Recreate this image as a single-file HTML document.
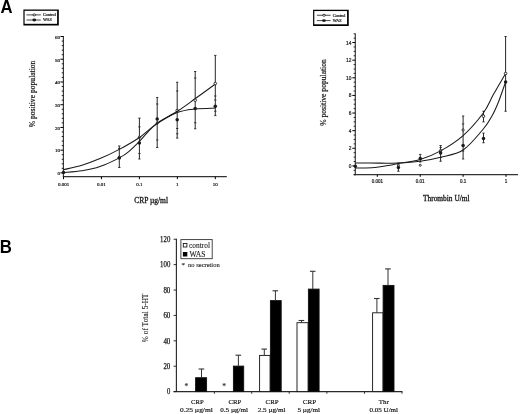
<!DOCTYPE html>
<html lang="en"><head><meta charset="utf-8"><title>Figure</title>
<style>
html,body{margin:0;padding:0;background:#fff;}
body{width:520px;height:414px;overflow:hidden;}
svg{display:block;filter:grayscale(1);}
.s{font-family:"Liberation Serif","DejaVu Serif",serif;fill:#1a1a1a;stroke:#1a1a1a;stroke-width:0.1px;}
</style></head>
<body>
<svg width="520" height="414" viewBox="0 0 520 414">
<rect x="0" y="0" width="520" height="414" fill="#fff"/>
<text transform="translate(0.6,12.5) scale(0.95,1)" font-family='"Liberation Sans","DejaVu Sans",sans-serif' font-weight="bold" font-size="17.6" fill="#000">A</text>
<text transform="translate(-0.25,252.75) scale(0.96,1)" font-family='"Liberation Sans","DejaVu Sans",sans-serif' font-weight="bold" font-size="17.5" fill="#000">B</text>
<rect x="23.4" y="9.5" width="35.4" height="16.0" fill="#000"/>
<rect x="24.6" y="10.8" width="32.5" height="13.0" fill="#fff"/>
<line x1="26.5" y1="14.9" x2="40.8" y2="14.9" stroke="#1a1a1a" stroke-width="0.8"/>
<line x1="26.5" y1="20.0" x2="40.8" y2="20.0" stroke="#1a1a1a" stroke-width="0.8"/>
<ellipse cx="34.25" cy="14.9" rx="1.35" ry="1.0" fill="#fff" stroke="#1a1a1a" stroke-width="0.85"/>
<ellipse cx="34.25" cy="20.0" rx="1.9" ry="1.45" fill="#1a1a1a"/>
<text class="s" x="43.0" y="16.3" font-size="4.2" style="stroke-width:.2px">Control</text>
<text class="s" x="43.0" y="21.4" font-size="4.2" style="stroke-width:.2px">WAS</text>
<rect x="313.1" y="9.75" width="35.65" height="16.25" fill="#000"/>
<rect x="314.3" y="11.05" width="32.75" height="13.25" fill="#fff"/>
<line x1="316.9" y1="15.25" x2="330.6" y2="15.25" stroke="#1a1a1a" stroke-width="0.8"/>
<line x1="316.9" y1="20.6" x2="330.6" y2="20.6" stroke="#1a1a1a" stroke-width="0.8"/>
<ellipse cx="323.95" cy="15.25" rx="1.35" ry="1.0" fill="#fff" stroke="#1a1a1a" stroke-width="0.85"/>
<ellipse cx="323.95" cy="20.6" rx="1.9" ry="1.45" fill="#1a1a1a"/>
<text class="s" x="332.7" y="16.65" font-size="4.2" style="stroke-width:.2px">Control</text>
<text class="s" x="332.7" y="22.0" font-size="4.2" style="stroke-width:.2px">WAS</text>
<line x1="63.4" y1="36.02" x2="63.4" y2="177.1" stroke="#333" stroke-width="1.15"/>
<line x1="62.9" y1="176.6" x2="226.8" y2="176.6" stroke="#333" stroke-width="1.2"/>
<line x1="60.4" y1="172.9" x2="63.4" y2="172.9" stroke="#000" stroke-width="1"/>
<text x="60.0" y="175.2" text-anchor="end" font-family='"Liberation Serif","DejaVu Serif",serif' font-size="5" fill="#1a1a1a" stroke="#1a1a1a" stroke-width="0.2">0</text>
<line x1="61.7" y1="168.35" x2="63.4" y2="168.35" stroke="#000" stroke-width="0.85"/>
<line x1="61.7" y1="163.81" x2="63.4" y2="163.81" stroke="#000" stroke-width="0.85"/>
<line x1="61.7" y1="159.26" x2="63.4" y2="159.26" stroke="#000" stroke-width="0.85"/>
<line x1="61.7" y1="154.72" x2="63.4" y2="154.72" stroke="#000" stroke-width="0.85"/>
<line x1="60.4" y1="150.17" x2="63.4" y2="150.17" stroke="#000" stroke-width="1"/>
<text x="60.0" y="152.47" text-anchor="end" font-family='"Liberation Serif","DejaVu Serif",serif' font-size="5" fill="#1a1a1a" stroke="#1a1a1a" stroke-width="0.2">10</text>
<line x1="61.7" y1="145.62" x2="63.4" y2="145.62" stroke="#000" stroke-width="0.85"/>
<line x1="61.7" y1="141.08" x2="63.4" y2="141.08" stroke="#000" stroke-width="0.85"/>
<line x1="61.7" y1="136.53" x2="63.4" y2="136.53" stroke="#000" stroke-width="0.85"/>
<line x1="61.7" y1="131.99" x2="63.4" y2="131.99" stroke="#000" stroke-width="0.85"/>
<line x1="60.4" y1="127.44" x2="63.4" y2="127.44" stroke="#000" stroke-width="1"/>
<text x="60.0" y="129.74" text-anchor="end" font-family='"Liberation Serif","DejaVu Serif",serif' font-size="5" fill="#1a1a1a" stroke="#1a1a1a" stroke-width="0.2">20</text>
<line x1="61.7" y1="122.89" x2="63.4" y2="122.89" stroke="#000" stroke-width="0.85"/>
<line x1="61.7" y1="118.35" x2="63.4" y2="118.35" stroke="#000" stroke-width="0.85"/>
<line x1="61.7" y1="113.8" x2="63.4" y2="113.8" stroke="#000" stroke-width="0.85"/>
<line x1="61.7" y1="109.26" x2="63.4" y2="109.26" stroke="#000" stroke-width="0.85"/>
<line x1="60.4" y1="104.71" x2="63.4" y2="104.71" stroke="#000" stroke-width="1"/>
<text x="60.0" y="107.01" text-anchor="end" font-family='"Liberation Serif","DejaVu Serif",serif' font-size="5" fill="#1a1a1a" stroke="#1a1a1a" stroke-width="0.2">30</text>
<line x1="61.7" y1="100.16" x2="63.4" y2="100.16" stroke="#000" stroke-width="0.85"/>
<line x1="61.7" y1="95.62" x2="63.4" y2="95.62" stroke="#000" stroke-width="0.85"/>
<line x1="61.7" y1="91.07" x2="63.4" y2="91.07" stroke="#000" stroke-width="0.85"/>
<line x1="61.7" y1="86.53" x2="63.4" y2="86.53" stroke="#000" stroke-width="0.85"/>
<line x1="60.4" y1="81.98" x2="63.4" y2="81.98" stroke="#000" stroke-width="1"/>
<text x="60.0" y="84.28" text-anchor="end" font-family='"Liberation Serif","DejaVu Serif",serif' font-size="5" fill="#1a1a1a" stroke="#1a1a1a" stroke-width="0.2">40</text>
<line x1="61.7" y1="77.43" x2="63.4" y2="77.43" stroke="#000" stroke-width="0.85"/>
<line x1="61.7" y1="72.89" x2="63.4" y2="72.89" stroke="#000" stroke-width="0.85"/>
<line x1="61.7" y1="68.34" x2="63.4" y2="68.34" stroke="#000" stroke-width="0.85"/>
<line x1="61.7" y1="63.8" x2="63.4" y2="63.8" stroke="#000" stroke-width="0.85"/>
<line x1="60.4" y1="59.25" x2="63.4" y2="59.25" stroke="#000" stroke-width="1"/>
<text x="60.0" y="61.55" text-anchor="end" font-family='"Liberation Serif","DejaVu Serif",serif' font-size="5" fill="#1a1a1a" stroke="#1a1a1a" stroke-width="0.2">50</text>
<line x1="61.7" y1="54.7" x2="63.4" y2="54.7" stroke="#000" stroke-width="0.85"/>
<line x1="61.7" y1="50.16" x2="63.4" y2="50.16" stroke="#000" stroke-width="0.85"/>
<line x1="61.7" y1="45.61" x2="63.4" y2="45.61" stroke="#000" stroke-width="0.85"/>
<line x1="61.7" y1="41.07" x2="63.4" y2="41.07" stroke="#000" stroke-width="0.85"/>
<line x1="60.4" y1="36.52" x2="63.4" y2="36.52" stroke="#000" stroke-width="1"/>
<text x="60.0" y="38.82" text-anchor="end" font-family='"Liberation Serif","DejaVu Serif",serif' font-size="5" fill="#1a1a1a" stroke="#1a1a1a" stroke-width="0.2">60</text>
<line x1="63.5" y1="176.6" x2="63.5" y2="179.2" stroke="#000" stroke-width="1"/>
<text x="63.5"  y="185.9" text-anchor="middle" font-family='"Liberation Serif","DejaVu Serif",serif' font-size="5" fill="#1a1a1a" stroke="#1a1a1a" stroke-width="0.2">0.001</text>
<line x1="101.45" y1="176.6" x2="101.45" y2="179.2" stroke="#000" stroke-width="1"/>
<text x="101.45"  y="185.9" text-anchor="middle" font-family='"Liberation Serif","DejaVu Serif",serif' font-size="5" fill="#1a1a1a" stroke="#1a1a1a" stroke-width="0.2">0.01</text>
<line x1="139.4" y1="176.6" x2="139.4" y2="179.2" stroke="#000" stroke-width="1"/>
<text x="139.4"  y="185.9" text-anchor="middle" font-family='"Liberation Serif","DejaVu Serif",serif' font-size="5" fill="#1a1a1a" stroke="#1a1a1a" stroke-width="0.2">0.1</text>
<line x1="177.35" y1="176.6" x2="177.35" y2="179.2" stroke="#000" stroke-width="1"/>
<text x="177.35"  y="185.9" text-anchor="middle" font-family='"Liberation Serif","DejaVu Serif",serif' font-size="5" fill="#1a1a1a" stroke="#1a1a1a" stroke-width="0.2">1</text>
<line x1="215.3" y1="176.6" x2="215.3" y2="179.2" stroke="#000" stroke-width="1"/>
<text x="215.3"  y="185.9" text-anchor="middle" font-family='"Liberation Serif","DejaVu Serif",serif' font-size="5" fill="#1a1a1a" stroke="#1a1a1a" stroke-width="0.2">10</text>
<text transform="translate(34.8,93.9) rotate(-90)" text-anchor="middle" font-family='"Liberation Serif","DejaVu Serif",serif' font-size="7.6" fill="#1a1a1a" stroke="#1a1a1a" stroke-width="0.2">% positive population</text>
<text x="134.2" y="202.5" font-family='"Liberation Serif","DejaVu Serif",serif' font-size="7.5" fill="#1a1a1a" stroke="#1a1a1a" stroke-width="0.3">CRP µg/ml</text>
<line x1="119.3" y1="146.0" x2="119.3" y2="167.5" stroke="#262626" stroke-width="1.0"/>
<line x1="118.15" y1="146.0" x2="120.45" y2="146.0" stroke="#262626" stroke-width="0.9"/>
<line x1="118.15" y1="167.5" x2="120.45" y2="167.5" stroke="#262626" stroke-width="0.9"/>
<line x1="118.15" y1="148.5" x2="120.45" y2="148.5" stroke="#262626" stroke-width="0.9"/>
<line x1="139.4" y1="118.1" x2="139.4" y2="159.0" stroke="#262626" stroke-width="1.0"/>
<line x1="138.25" y1="118.1" x2="140.55" y2="118.1" stroke="#262626" stroke-width="0.9"/>
<line x1="138.25" y1="159.0" x2="140.55" y2="159.0" stroke="#262626" stroke-width="0.9"/>
<line x1="138.25" y1="126.9" x2="140.55" y2="126.9" stroke="#262626" stroke-width="0.9"/>
<line x1="138.25" y1="153.5" x2="140.55" y2="153.5" stroke="#262626" stroke-width="0.9"/>
<line x1="157.2" y1="97.5" x2="157.2" y2="147.5" stroke="#262626" stroke-width="1.0"/>
<line x1="156.05" y1="97.5" x2="158.35" y2="97.5" stroke="#262626" stroke-width="0.9"/>
<line x1="156.05" y1="147.5" x2="158.35" y2="147.5" stroke="#262626" stroke-width="0.9"/>
<line x1="156.05" y1="104.0" x2="158.35" y2="104.0" stroke="#262626" stroke-width="0.9"/>
<line x1="156.05" y1="140.0" x2="158.35" y2="140.0" stroke="#262626" stroke-width="0.9"/>
<line x1="177.2" y1="82.25" x2="177.2" y2="138.1" stroke="#262626" stroke-width="1.0"/>
<line x1="176.05" y1="82.25" x2="178.35" y2="82.25" stroke="#262626" stroke-width="0.9"/>
<line x1="176.05" y1="138.1" x2="178.35" y2="138.1" stroke="#262626" stroke-width="0.9"/>
<line x1="176.05" y1="91.0" x2="178.35" y2="91.0" stroke="#262626" stroke-width="0.9"/>
<line x1="176.05" y1="133.75" x2="178.35" y2="133.75" stroke="#262626" stroke-width="0.9"/>
<line x1="176.05" y1="128.5" x2="178.35" y2="128.5" stroke="#262626" stroke-width="0.9"/>
<line x1="195.2" y1="71.5" x2="195.2" y2="128.75" stroke="#262626" stroke-width="1.0"/>
<line x1="194.05" y1="71.5" x2="196.35" y2="71.5" stroke="#262626" stroke-width="0.9"/>
<line x1="194.05" y1="128.75" x2="196.35" y2="128.75" stroke="#262626" stroke-width="0.9"/>
<line x1="194.05" y1="78.0" x2="196.35" y2="78.0" stroke="#262626" stroke-width="0.9"/>
<line x1="194.05" y1="122.75" x2="196.35" y2="122.75" stroke="#262626" stroke-width="0.9"/>
<line x1="215.3" y1="55.4" x2="215.3" y2="115.6" stroke="#262626" stroke-width="1.0"/>
<line x1="214.15" y1="55.4" x2="216.45" y2="55.4" stroke="#262626" stroke-width="0.9"/>
<line x1="214.15" y1="115.6" x2="216.45" y2="115.6" stroke="#262626" stroke-width="0.9"/>
<line x1="214.15" y1="96.0" x2="216.45" y2="96.0" stroke="#262626" stroke-width="0.9"/>
<line x1="214.15" y1="100.0" x2="216.45" y2="100.0" stroke="#262626" stroke-width="0.9"/>
<line x1="214.15" y1="111.25" x2="216.45" y2="111.25" stroke="#262626" stroke-width="0.9"/>
<circle cx="119.3" cy="157.4" r="1.2" fill="#fff" stroke="#1a1a1a" stroke-width="0.9"/>
<circle cx="139.4" cy="137.3" r="1.2" fill="#fff" stroke="#1a1a1a" stroke-width="0.9"/>
<circle cx="157.2" cy="123.1" r="1.1" fill="#fff" stroke="#1a1a1a" stroke-width="0.9"/>
<circle cx="177.2" cy="110.6" r="1.3" fill="#fff" stroke="#1a1a1a" stroke-width="0.9"/>
<path d="M63.5 169.7 C66.58 168.95 75.92 167.05 82.0 165.2 C88.08 163.35 93.78 161.23 100.0 158.6 C106.22 155.97 112.73 152.92 119.3 149.4 C125.87 145.88 133.08 141.88 139.4 137.5 C145.72 133.12 150.88 127.47 157.2 123.1 C163.52 118.73 170.93 115.4 177.3 111.3 C183.67 107.2 189.05 103.05 195.4 98.5 C201.75 93.95 212.07 86.42 215.4 84.0" fill="none" stroke="#1a1a1a" stroke-width="1.05"/>
<path d="M63.5 172.6 C66.58 172.3 75.92 171.8 82.0 170.8 C88.08 169.8 93.78 168.75 100.0 166.6 C106.22 164.45 114.51 160.4 119.3 157.9 C124.09 155.4 125.4 154.35 128.75 151.6 C132.1 148.85 136.19 144.7 139.4 141.4 C142.61 138.1 145.03 134.77 148.0 131.8 C150.97 128.83 152.32 126.82 157.2 123.6 C162.08 120.38 170.93 114.93 177.3 112.5 C183.67 110.07 189.05 109.73 195.4 109.0 C201.75 108.27 212.07 108.25 215.4 108.1" fill="none" stroke="#1a1a1a" stroke-width="1.05"/>
<circle cx="195.2" cy="100.25" r="1.3" fill="#fff" stroke="#1a1a1a" stroke-width="0.9"/>
<circle cx="215.3" cy="83.5" r="1.3" fill="#fff" stroke="#1a1a1a" stroke-width="0.9"/>
<circle cx="63.5" cy="172.4" r="1.75" fill="#1a1a1a"/>
<circle cx="119.3" cy="158.0" r="1.75" fill="#1a1a1a"/>
<circle cx="139.4" cy="143.1" r="1.75" fill="#1a1a1a"/>
<circle cx="157.2" cy="119.0" r="1.75" fill="#1a1a1a"/>
<circle cx="177.2" cy="119.75" r="1.75" fill="#1a1a1a"/>
<circle cx="195.2" cy="108.5" r="1.75" fill="#1a1a1a"/>
<circle cx="215.3" cy="106.25" r="1.75" fill="#1a1a1a"/>
<line x1="355.3" y1="33.45" x2="355.3" y2="175.15" stroke="#333" stroke-width="1.15"/>
<line x1="353.8" y1="174.65" x2="518" y2="174.65" stroke="#333" stroke-width="1.2"/>
<line x1="353.6" y1="174.71" x2="355.3" y2="174.71" stroke="#000" stroke-width="0.8"/>
<line x1="353.6" y1="170.31" x2="355.3" y2="170.31" stroke="#000" stroke-width="0.8"/>
<line x1="352.3" y1="165.9" x2="355.3" y2="165.9" stroke="#000" stroke-width="1"/>
<text x="351.4" y="167.9" text-anchor="end" font-family='"Liberation Sans","DejaVu Sans",sans-serif' font-size="4.8" fill="#1a1a1a" stroke="#1a1a1a" stroke-width="0.2">0</text>
<line x1="353.6" y1="161.5" x2="355.3" y2="161.5" stroke="#000" stroke-width="0.8"/>
<line x1="353.6" y1="157.09" x2="355.3" y2="157.09" stroke="#000" stroke-width="0.8"/>
<line x1="353.6" y1="152.69" x2="355.3" y2="152.69" stroke="#000" stroke-width="0.8"/>
<line x1="352.3" y1="148.28" x2="355.3" y2="148.28" stroke="#000" stroke-width="1"/>
<text x="351.4" y="150.28" text-anchor="end" font-family='"Liberation Sans","DejaVu Sans",sans-serif' font-size="4.8" fill="#1a1a1a" stroke="#1a1a1a" stroke-width="0.2">2</text>
<line x1="353.6" y1="143.88" x2="355.3" y2="143.88" stroke="#000" stroke-width="0.8"/>
<line x1="353.6" y1="139.47" x2="355.3" y2="139.47" stroke="#000" stroke-width="0.8"/>
<line x1="353.6" y1="135.06" x2="355.3" y2="135.06" stroke="#000" stroke-width="0.8"/>
<line x1="352.3" y1="130.66" x2="355.3" y2="130.66" stroke="#000" stroke-width="1"/>
<text x="351.4" y="132.66" text-anchor="end" font-family='"Liberation Sans","DejaVu Sans",sans-serif' font-size="4.8" fill="#1a1a1a" stroke="#1a1a1a" stroke-width="0.2">4</text>
<line x1="353.6" y1="126.25" x2="355.3" y2="126.25" stroke="#000" stroke-width="0.8"/>
<line x1="353.6" y1="121.85" x2="355.3" y2="121.85" stroke="#000" stroke-width="0.8"/>
<line x1="353.6" y1="117.44" x2="355.3" y2="117.44" stroke="#000" stroke-width="0.8"/>
<line x1="352.3" y1="113.04" x2="355.3" y2="113.04" stroke="#000" stroke-width="1"/>
<text x="351.4" y="115.04" text-anchor="end" font-family='"Liberation Sans","DejaVu Sans",sans-serif' font-size="4.8" fill="#1a1a1a" stroke="#1a1a1a" stroke-width="0.2">6</text>
<line x1="353.6" y1="108.64" x2="355.3" y2="108.64" stroke="#000" stroke-width="0.8"/>
<line x1="353.6" y1="104.23" x2="355.3" y2="104.23" stroke="#000" stroke-width="0.8"/>
<line x1="353.6" y1="99.83" x2="355.3" y2="99.83" stroke="#000" stroke-width="0.8"/>
<line x1="352.3" y1="95.42" x2="355.3" y2="95.42" stroke="#000" stroke-width="1"/>
<text x="351.4" y="97.42" text-anchor="end" font-family='"Liberation Sans","DejaVu Sans",sans-serif' font-size="4.8" fill="#1a1a1a" stroke="#1a1a1a" stroke-width="0.2">8</text>
<line x1="353.6" y1="91.02" x2="355.3" y2="91.02" stroke="#000" stroke-width="0.8"/>
<line x1="353.6" y1="86.61" x2="355.3" y2="86.61" stroke="#000" stroke-width="0.8"/>
<line x1="353.6" y1="82.2" x2="355.3" y2="82.2" stroke="#000" stroke-width="0.8"/>
<line x1="352.3" y1="77.8" x2="355.3" y2="77.8" stroke="#000" stroke-width="1"/>
<text x="351.4" y="79.8" text-anchor="end" font-family='"Liberation Sans","DejaVu Sans",sans-serif' font-size="4.8" fill="#1a1a1a" stroke="#1a1a1a" stroke-width="0.2">10</text>
<line x1="353.6" y1="73.39" x2="355.3" y2="73.39" stroke="#000" stroke-width="0.8"/>
<line x1="353.6" y1="68.99" x2="355.3" y2="68.99" stroke="#000" stroke-width="0.8"/>
<line x1="353.6" y1="64.58" x2="355.3" y2="64.58" stroke="#000" stroke-width="0.8"/>
<line x1="352.3" y1="60.18" x2="355.3" y2="60.18" stroke="#000" stroke-width="1"/>
<text x="351.4" y="62.18" text-anchor="end" font-family='"Liberation Sans","DejaVu Sans",sans-serif' font-size="4.8" fill="#1a1a1a" stroke="#1a1a1a" stroke-width="0.2">12</text>
<line x1="353.6" y1="55.78" x2="355.3" y2="55.78" stroke="#000" stroke-width="0.8"/>
<line x1="353.6" y1="51.37" x2="355.3" y2="51.37" stroke="#000" stroke-width="0.8"/>
<line x1="353.6" y1="46.97" x2="355.3" y2="46.97" stroke="#000" stroke-width="0.8"/>
<line x1="352.3" y1="42.56" x2="355.3" y2="42.56" stroke="#000" stroke-width="1"/>
<text x="351.4" y="44.56" text-anchor="end" font-family='"Liberation Sans","DejaVu Sans",sans-serif' font-size="4.8" fill="#1a1a1a" stroke="#1a1a1a" stroke-width="0.2">14</text>
<line x1="353.6" y1="38.16" x2="355.3" y2="38.16" stroke="#000" stroke-width="0.8"/>
<line x1="353.6" y1="33.75" x2="355.3" y2="33.75" stroke="#000" stroke-width="0.8"/>
<line x1="377.3" y1="174.65" x2="377.3" y2="176.85" stroke="#000" stroke-width="1"/>
<text x="377.3" y="183.1" text-anchor="middle" font-family='"Liberation Sans","DejaVu Sans",sans-serif' font-size="4.5" fill="#1a1a1a" stroke="#1a1a1a" stroke-width="0.2">0.001</text>
<line x1="420.2" y1="174.65" x2="420.2" y2="176.85" stroke="#000" stroke-width="1"/>
<text x="420.2" y="183.1" text-anchor="middle" font-family='"Liberation Sans","DejaVu Sans",sans-serif' font-size="4.5" fill="#1a1a1a" stroke="#1a1a1a" stroke-width="0.2">0.01</text>
<line x1="463.1" y1="174.65" x2="463.1" y2="176.85" stroke="#000" stroke-width="1"/>
<text x="463.1" y="183.1" text-anchor="middle" font-family='"Liberation Sans","DejaVu Sans",sans-serif' font-size="4.5" fill="#1a1a1a" stroke="#1a1a1a" stroke-width="0.2">0.1</text>
<line x1="506.0" y1="174.65" x2="506.0" y2="176.85" stroke="#000" stroke-width="1"/>
<text x="506.0" y="183.1" text-anchor="middle" font-family='"Liberation Sans","DejaVu Sans",sans-serif' font-size="4.5" fill="#1a1a1a" stroke="#1a1a1a" stroke-width="0.2">1</text>
<text transform="translate(325.9,92.5) rotate(-90)" text-anchor="middle" font-family='"Liberation Serif","DejaVu Serif",serif' font-size="7.6" fill="#1a1a1a" stroke="#1a1a1a" stroke-width="0.2">% positive population</text>
<text x="423" y="200.6" font-family='"Liberation Serif","DejaVu Serif",serif' font-size="7.4" fill="#1a1a1a" stroke="#1a1a1a" stroke-width="0.3">Thrombin U/ml</text>
<line x1="398.4" y1="163.1" x2="398.4" y2="171.25" stroke="#262626" stroke-width="1.0"/>
<line x1="397.25" y1="163.1" x2="399.55" y2="163.1" stroke="#262626" stroke-width="0.9"/>
<line x1="397.25" y1="171.25" x2="399.55" y2="171.25" stroke="#262626" stroke-width="0.9"/>
<line x1="420.25" y1="154.4" x2="420.25" y2="162.0" stroke="#262626" stroke-width="1.0"/>
<line x1="419.1" y1="154.4" x2="421.4" y2="154.4" stroke="#262626" stroke-width="0.9"/>
<line x1="419.1" y1="162.0" x2="421.4" y2="162.0" stroke="#262626" stroke-width="0.9"/>
<line x1="440.6" y1="145.5" x2="440.6" y2="161.25" stroke="#262626" stroke-width="1.0"/>
<line x1="439.45" y1="145.5" x2="441.75" y2="145.5" stroke="#262626" stroke-width="0.9"/>
<line x1="439.45" y1="161.25" x2="441.75" y2="161.25" stroke="#262626" stroke-width="0.9"/>
<line x1="439.45" y1="147.5" x2="441.75" y2="147.5" stroke="#262626" stroke-width="0.9"/>
<line x1="439.45" y1="157.5" x2="441.75" y2="157.5" stroke="#262626" stroke-width="0.9"/>
<line x1="463.1" y1="116.0" x2="463.1" y2="159.0" stroke="#262626" stroke-width="1.0"/>
<line x1="461.95" y1="116.0" x2="464.25" y2="116.0" stroke="#262626" stroke-width="0.9"/>
<line x1="461.95" y1="159.0" x2="464.25" y2="159.0" stroke="#262626" stroke-width="0.9"/>
<line x1="461.95" y1="124.0" x2="464.25" y2="124.0" stroke="#262626" stroke-width="0.9"/>
<line x1="461.95" y1="151.0" x2="464.25" y2="151.0" stroke="#262626" stroke-width="0.9"/>
<line x1="483.5" y1="111.25" x2="483.5" y2="121.9" stroke="#262626" stroke-width="1.0"/>
<line x1="482.35" y1="111.25" x2="484.65" y2="111.25" stroke="#262626" stroke-width="0.9"/>
<line x1="482.35" y1="121.9" x2="484.65" y2="121.9" stroke="#262626" stroke-width="0.9"/>
<line x1="483.5" y1="133.1" x2="483.5" y2="142.75" stroke="#262626" stroke-width="1.0"/>
<line x1="482.35" y1="133.1" x2="484.65" y2="133.1" stroke="#262626" stroke-width="0.9"/>
<line x1="482.35" y1="142.75" x2="484.65" y2="142.75" stroke="#262626" stroke-width="0.9"/>
<line x1="505.6" y1="36.5" x2="505.6" y2="111.25" stroke="#262626" stroke-width="1.0"/>
<line x1="504.45" y1="36.5" x2="506.75" y2="36.5" stroke="#262626" stroke-width="0.9"/>
<line x1="504.45" y1="111.25" x2="506.75" y2="111.25" stroke="#262626" stroke-width="0.9"/>
<circle cx="398.4" cy="165.2" r="1.0" fill="#fff" stroke="#1a1a1a" stroke-width="0.9"/>
<circle cx="440.6" cy="150.6" r="1.2" fill="#fff" stroke="#1a1a1a" stroke-width="0.9"/>
<path d="M355.3 167.9 C357.08 167.9 362.38 168.02 366.0 167.9 C369.62 167.78 373.33 167.58 377.0 167.2 C380.67 166.82 384.43 166.22 388.0 165.6 C391.57 164.98 393.02 164.53 398.4 163.5 C403.77 162.47 413.22 161.5 420.25 159.4 C427.28 157.3 433.46 154.87 440.6 150.9 C447.74 146.93 455.98 141.92 463.1 135.6 C470.22 129.28 478.23 119.88 483.3 113.0 C488.37 106.12 489.78 100.88 493.5 94.3 C497.22 87.72 503.58 76.97 505.6 73.5" fill="none" stroke="#1a1a1a" stroke-width="1.05"/>
<path d="M355.3 162.9 C359.42 162.93 372.82 163.07 380.0 163.1 C387.18 163.13 391.69 163.41 398.4 163.1 C405.11 162.79 413.22 162.23 420.25 161.25 C427.28 160.27 433.46 159.07 440.6 157.2 C447.74 155.32 455.95 154.74 463.1 150.0 C470.25 145.26 478.6 134.58 483.5 128.75 C488.4 122.92 489.96 119.58 492.5 115.0 C495.04 110.42 496.57 106.77 498.75 101.25 C500.93 95.73 504.46 85.12 505.6 81.9" fill="none" stroke="#1a1a1a" stroke-width="1.05"/>
<circle cx="420.25" cy="165.25" r="1.0" fill="#fff" stroke="#1a1a1a" stroke-width="0.9"/>
<circle cx="463.1" cy="130.0" r="1.1" fill="#fff" stroke="#1a1a1a" stroke-width="0.9"/>
<circle cx="483.5" cy="116.25" r="1.3" fill="#fff" stroke="#1a1a1a" stroke-width="0.9"/>
<circle cx="505.6" cy="73.5" r="1.3" fill="#fff" stroke="#1a1a1a" stroke-width="0.9"/>
<circle cx="355.3" cy="166.3" r="1.75" fill="#1a1a1a"/>
<circle cx="398.4" cy="167.5" r="1.75" fill="#1a1a1a"/>
<circle cx="420.25" cy="158.5" r="1.75" fill="#1a1a1a"/>
<circle cx="440.6" cy="153.1" r="1.75" fill="#1a1a1a"/>
<circle cx="463.1" cy="145.4" r="1.75" fill="#1a1a1a"/>
<circle cx="483.5" cy="138.5" r="1.75" fill="#1a1a1a"/>
<circle cx="505.6" cy="81.9" r="1.75" fill="#1a1a1a"/>
<line x1="176.4" y1="238.85" x2="176.4" y2="392.1" stroke="#2a2a2a" stroke-width="1.15"/>
<line x1="173.6" y1="391.6" x2="402.4" y2="391.6" stroke="#2a2a2a" stroke-width="1.15"/>
<line x1="173.6" y1="391.6" x2="176.4" y2="391.6" stroke="#1a1a1a" stroke-width="0.9"/>
<text class="s" x="167.0" y="394.35" font-size="7.5" textLength="3.3" lengthAdjust="spacingAndGlyphs" style="stroke-width:.25px">0</text>
<line x1="173.6" y1="366.21" x2="176.4" y2="366.21" stroke="#1a1a1a" stroke-width="0.9"/>
<text class="s" x="163.4" y="368.96" font-size="7.5" textLength="6.9" lengthAdjust="spacingAndGlyphs" style="stroke-width:.25px">20</text>
<line x1="173.6" y1="340.82" x2="176.4" y2="340.82" stroke="#1a1a1a" stroke-width="0.9"/>
<text class="s" x="163.4" y="343.57" font-size="7.5" textLength="6.9" lengthAdjust="spacingAndGlyphs" style="stroke-width:.25px">40</text>
<line x1="173.6" y1="315.43" x2="176.4" y2="315.43" stroke="#1a1a1a" stroke-width="0.9"/>
<text class="s" x="163.4" y="318.18" font-size="7.5" textLength="6.9" lengthAdjust="spacingAndGlyphs" style="stroke-width:.25px">60</text>
<line x1="173.6" y1="290.03" x2="176.4" y2="290.03" stroke="#1a1a1a" stroke-width="0.9"/>
<text class="s" x="163.4" y="292.78" font-size="7.5" textLength="6.9" lengthAdjust="spacingAndGlyphs" style="stroke-width:.25px">80</text>
<line x1="173.6" y1="264.64" x2="176.4" y2="264.64" stroke="#1a1a1a" stroke-width="0.9"/>
<text class="s" x="160.1" y="267.39" font-size="7.5" textLength="10.2" lengthAdjust="spacingAndGlyphs" style="stroke-width:.25px">100</text>
<line x1="173.6" y1="239.25" x2="176.4" y2="239.25" stroke="#1a1a1a" stroke-width="0.9"/>
<text class="s" x="160.1" y="242.0" font-size="7.5" textLength="10.2" lengthAdjust="spacingAndGlyphs" style="stroke-width:.25px">120</text>
<line x1="214.4" y1="391.6" x2="214.4" y2="393.7" stroke="#1a1a1a" stroke-width="0.9"/>
<line x1="251.7" y1="391.6" x2="251.7" y2="393.7" stroke="#1a1a1a" stroke-width="0.9"/>
<line x1="289.2" y1="391.6" x2="289.2" y2="393.7" stroke="#1a1a1a" stroke-width="0.9"/>
<line x1="326.9" y1="391.6" x2="326.9" y2="393.7" stroke="#1a1a1a" stroke-width="0.9"/>
<line x1="364.5" y1="391.6" x2="364.5" y2="393.7" stroke="#1a1a1a" stroke-width="0.9"/>
<line x1="402.0" y1="391.6" x2="402.0" y2="393.7" stroke="#1a1a1a" stroke-width="0.9"/>
<text class="s" transform="translate(147.7,342.2) rotate(-90)" font-size="7.2" textLength="48.7" lengthAdjust="spacing">% of Total 5-HT</text>
<rect x="180.9" y="239.6" width="31.3" height="19.1" fill="#fff" stroke="#333" stroke-width="0.9"/>
<rect x="183.3" y="243.5" width="3.6" height="3.5" fill="#fff" stroke="#1a1a1a" stroke-width="0.9"/>
<rect x="182.9" y="252" width="4.4" height="4.5" fill="#000"/>
<text class="s" x="189.1" y="247.7" font-size="7.4">control</text>
<text class="s" x="189.5" y="256.8" font-size="7.6">WAS</text>
<text class="s" x="181.6" y="266.7" font-size="6.8">*</text>
<text class="s" x="188.1" y="267.0" font-size="6.5">no secretion</text>
<rect x="195.6" y="377.7" width="11.0" height="13.9" fill="#000" stroke="#111" stroke-width="0.9"/>
<line x1="201.5" y1="369.0" x2="201.5" y2="377.7" stroke="#333" stroke-width="1"/>
<line x1="198.6" y1="369.0" x2="204.2" y2="369.0" stroke="#333" stroke-width="1.1"/>
<rect x="233.4" y="366.1" width="10.3" height="25.5" fill="#000" stroke="#111" stroke-width="0.9"/>
<line x1="238.4" y1="355.2" x2="238.4" y2="366.1" stroke="#333" stroke-width="1"/>
<line x1="235.5" y1="355.2" x2="241.1" y2="355.2" stroke="#333" stroke-width="1.1"/>
<rect x="259.6" y="355.4" width="10.5" height="36.2" fill="#fff" stroke="#111" stroke-width="0.9"/>
<line x1="264.3" y1="349.1" x2="264.3" y2="355.4" stroke="#333" stroke-width="1"/>
<line x1="261.4" y1="349.1" x2="267.0" y2="349.1" stroke="#333" stroke-width="1.1"/>
<rect x="270.4" y="300.6" width="10.8" height="91.0" fill="#000" stroke="#111" stroke-width="0.9"/>
<line x1="275.4" y1="290.8" x2="275.4" y2="300.6" stroke="#333" stroke-width="1"/>
<line x1="272.5" y1="290.8" x2="278.1" y2="290.8" stroke="#333" stroke-width="1.1"/>
<rect x="297.0" y="322.7" width="11.1" height="68.9" fill="#fff" stroke="#111" stroke-width="0.9"/>
<line x1="301.5" y1="320.5" x2="301.5" y2="322.7" stroke="#333" stroke-width="1"/>
<line x1="298.6" y1="320.5" x2="304.2" y2="320.5" stroke="#333" stroke-width="1.1"/>
<rect x="308.4" y="289.1" width="10.7" height="102.5" fill="#000" stroke="#111" stroke-width="0.9"/>
<line x1="312.8" y1="271.3" x2="312.8" y2="289.1" stroke="#333" stroke-width="1"/>
<line x1="309.9" y1="271.3" x2="315.5" y2="271.3" stroke="#333" stroke-width="1.1"/>
<rect x="372.6" y="312.8" width="10.5" height="78.8" fill="#fff" stroke="#111" stroke-width="0.9"/>
<line x1="376.9" y1="298.5" x2="376.9" y2="312.8" stroke="#333" stroke-width="1"/>
<line x1="374.0" y1="298.5" x2="379.6" y2="298.5" stroke="#333" stroke-width="1.1"/>
<rect x="383.1" y="285.4" width="10.9" height="106.2" fill="#000" stroke="#111" stroke-width="0.9"/>
<line x1="388.0" y1="268.9" x2="388.0" y2="285.4" stroke="#333" stroke-width="1"/>
<line x1="385.1" y1="268.9" x2="390.7" y2="268.9" stroke="#333" stroke-width="1.1"/>
<text x="186.3" y="389.2" text-anchor="middle" font-family='"Liberation Serif","DejaVu Serif",serif' font-size="7.5" fill="#333" stroke="#333" stroke-width="0.15">*</text>
<text x="224.1" y="389.4" text-anchor="middle" font-family='"Liberation Serif","DejaVu Serif",serif' font-size="7.5" fill="#333" stroke="#333" stroke-width="0.15">*</text>
<text class="s" x="191" y="403.7" font-size="7.0" style="stroke-width:.2px" textLength="12.6" lengthAdjust="spacingAndGlyphs">CRP</text>
<text class="s" x="228.5" y="403.7" font-size="7.0" style="stroke-width:.2px" textLength="12.8" lengthAdjust="spacingAndGlyphs">CRP</text>
<text class="s" x="265.6" y="403.7" font-size="7.0" style="stroke-width:.2px" textLength="13.0" lengthAdjust="spacingAndGlyphs">CRP</text>
<text class="s" x="302.7" y="403.7" font-size="7.0" style="stroke-width:.2px" textLength="13.4" lengthAdjust="spacingAndGlyphs">CRP</text>
<text class="s" x="378.75" y="403.7" font-size="7.0" style="stroke-width:.2px" textLength="10" lengthAdjust="spacingAndGlyphs">Thr</text>
<text class="s" x="180" y="411.8" font-size="7.0" style="stroke-width:.2px" textLength="32.75" lengthAdjust="spacingAndGlyphs">0.25 µg/ml</text>
<text class="s" x="220.25" y="411.8" font-size="7.0" style="stroke-width:.2px" textLength="27.85" lengthAdjust="spacingAndGlyphs">0.5 µg/ml</text>
<text class="s" x="257.75" y="411.8" font-size="7.0" style="stroke-width:.2px" textLength="27.85" lengthAdjust="spacingAndGlyphs">2.5 µg/ml</text>
<text class="s" x="297.5" y="411.8" font-size="7.0" style="stroke-width:.2px" textLength="22.5" lengthAdjust="spacingAndGlyphs">5 µg/ml</text>
<text class="s" x="369.4" y="411.8" font-size="7.0" style="stroke-width:.2px" textLength="28.7" lengthAdjust="spacingAndGlyphs">0.05 U/ml</text>
</svg>
</body></html>
